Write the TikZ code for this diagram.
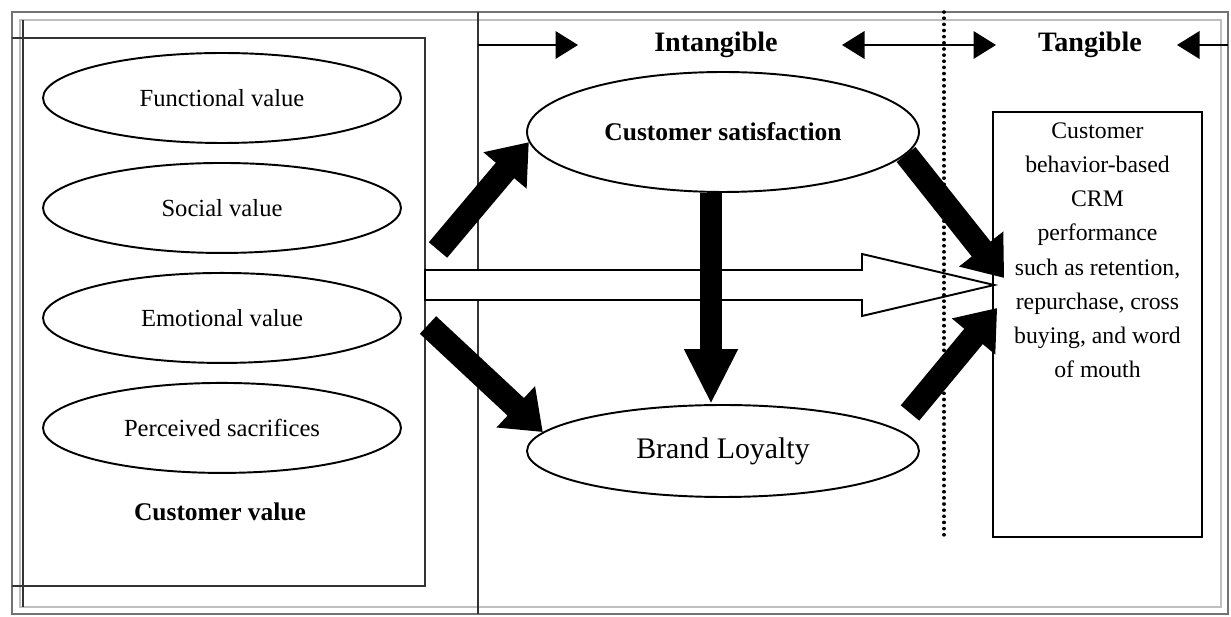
\documentclass[tikz,border=0pt]{standalone}
\usepackage{fontspec}
\setmainfont{Liberation Serif}
\usetikzlibrary{shapes.geometric}
\usetikzlibrary{positioning}
\usetikzlibrary{arrows.meta}

\begin{document}
\begin{tikzpicture}[x=0.02cm,y=-0.02cm,node distance=2.2cm,
	value node/.style={ellipse,draw,line width=1.1pt,minimum width=7.16cm,minimum height=1.8cm,
		font=\fontsize{14}{16}\selectfont},
	fat arrow/.style={line width=0.48cm,-{Triangle[length=0.74cm,width=1.08cm]}},
	top arrow/.style={line width=1.1pt,-{Triangle[length=0.45cm,width=0.55cm]}},
	frame line/.style={draw=black!80,line width=1pt}]
	
	\useasboundingbox (0,0) rectangle (1231,617);
	
	% outer frame and boxes
	\draw[draw=black!55,line width=1.6pt] (12,12) rectangle (1228,614);
	\draw[draw=black!25,line width=0.8pt] (20,20) rectangle (1221,607);
	\draw[frame line] (12,38) -- (425,38) -- (425,586) -- (12,586);
	\draw[frame line] (23,20) -- (23,607);
	\draw[frame line] (478,12) -- (478,614);
	
	% customer value
	\node[value node] (fv) at (222,98) {Functional value};
	\node[value node] (sv) [below of=fv] {Social value};
	\node[value node] (ev) [below of=sv] {Emotional value};
	\node[value node] (ps) [below of=ev] {Perceived sacrifices};
	\node[font=\bfseries\fontsize{14.5}{17}\selectfont] (cv) at (220,512) {Customer value};
	
	% intangible / tangible
	\node[ellipse,draw,line width=1.1pt,minimum width=7.84cm,minimum height=2.4cm,
		font=\bfseries\fontsize{14.5}{17}\selectfont] (cs) at (723,132) {Customer satisfaction};
	\node[ellipse,draw,line width=1.1pt,minimum width=7.84cm,minimum height=1.84cm,
		font=\fontsize{17}{20}\selectfont] (bl) at (723,451) {Brand Loyalty};
	\node[draw,line width=1pt,inner sep=0pt,minimum width=4.18cm,minimum height=8.5cm] (crm) at (1097.5,324.5)
		{\parbox[t][8.3cm][t]{4.1cm}{\centering\fontsize{13.5}{19.5}\selectfont\vspace*{3pt}
			Customer\\ behavior-based\\ CRM\\ performance\\ such as retention,\\ repurchase, cross\\ buying, and word\\ of mouth}};
	
	\node[font=\bfseries\fontsize{16}{18}\selectfont] (intang) at (716,45) {Intangible};
	\node[font=\bfseries\fontsize{16}{18}\selectfont] (tang) at (1090,45) {Tangible};
	
	\coordinate (a1) at (478,45);
	\coordinate (a2) at (578,45);
	\coordinate (a3) at (842,45);
	\coordinate (a4) at (996,45);
	\coordinate (a5) at (1228,45);
	\coordinate (a6) at (1177,45);
	\draw[top arrow] (a1) -- (a2);
	\draw[top arrow,{Triangle[length=0.45cm,width=0.55cm]}-{Triangle[length=0.45cm,width=0.55cm]}] (a3) -- (a4);
	\draw[top arrow] (a5) -- (a6);
	
	% hollow arrow
	\coordinate (ht) at ([shift={(2,-39.5)}]crm.west);
	\draw[line width=1.1pt,fill=white,line join=miter] (425,270) -- (862,270) -- (862,254) -- (ht)
		-- (862,316) -- (862,300) -- (425,300) -- cycle;
	
	\draw[line width=2pt,line cap=round,dash pattern=on 0.1pt off 3.4pt] (944,12) -- (944,537);
	
	% black arrows
	\coordinate (s1) at (438,250);
	\coordinate (s2) at (428,325);
	\coordinate (s5) at (910,413);
	\coordinate (t4) at ([shift={(12,-46.5)}]crm.west);
	\coordinate (t5) at ([shift={(5,-16.5)}]crm.west);
	\draw[fat arrow] (s1) -- (cs.183);
	\draw[fat arrow] (s2) -- (bl.174);
	\draw[fat arrow] (cs.-7) -- (t4);
	\draw[fat arrow] (s5) -- (t5);
	\draw[line width=0.44cm,-{Triangle[length=1.1cm,width=1cm]}] ([xshift=-0.24cm]cs.south) -- ([xshift=-0.24cm]bl.north);
	
\end{tikzpicture}
\end{document}
